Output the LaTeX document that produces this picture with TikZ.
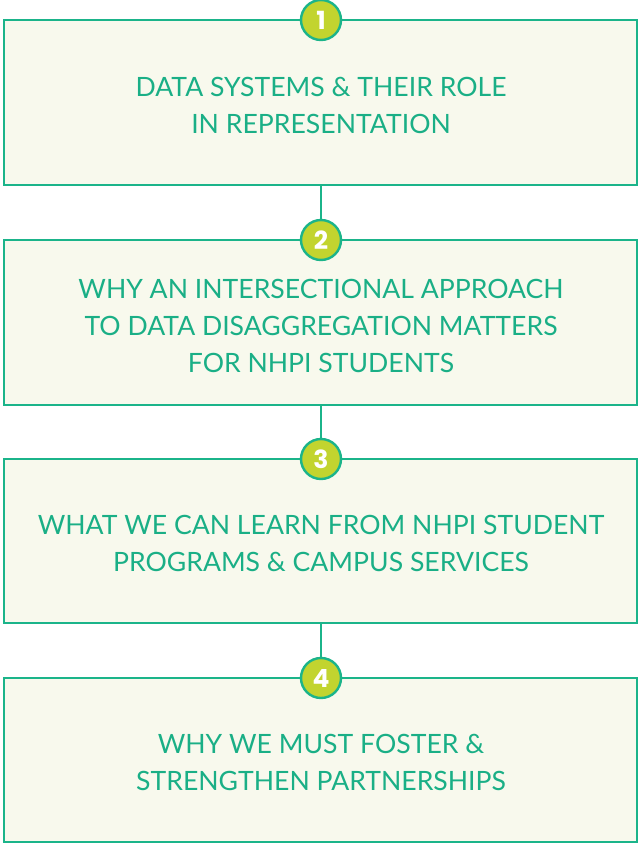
\documentclass[tikz,border=0pt]{standalone}
\usepackage{fontspec}
\setmainfont{Lato}
\newfontfamily\numfont{Poppins}
\definecolor{teal}{HTML}{1BB48A}
\definecolor{tealtext}{HTML}{1AAF86}
\definecolor{lime}{HTML}{C2D42F}
\definecolor{cream}{HTML}{F8F9ED}
\begin{document}
\begin{tikzpicture}[x=1pt,y=-1pt,
  panel/.style={draw=teal,line width=2.4pt,fill=cream},
  badge/.style={circle,draw=teal,line width=2.4pt,fill=lime,minimum size=40pt,inner sep=0pt,text=white,font=\numfont\bfseries\fontsize{25}{25}\selectfont},
  label/.style={text=tealtext,align=center,font=\fontsize{26.6}{37}\selectfont},
  link/.style={draw=teal,line width=2pt}]
\useasboundingbox (0,0) rectangle (639,844);
\node[panel,minimum width=633pt,minimum height=165pt,inner sep=0pt] (b1) at (320.5,102.5) {};
\node[panel,minimum width=633pt,minimum height=165pt,inner sep=0pt] (b2) at (320.5,322.5) {};
\node[panel,minimum width=633pt,minimum height=164pt,inner sep=0pt] (b3) at (320.5,541) {};
\node[panel,minimum width=633pt,minimum height=164pt,inner sep=0pt] (b4) at (320.5,760) {};
\draw[link] (b1.south -| 321,0) -- (321,221) coordinate (c2top);
\draw[link] (b2.south -| 321,0) -- (321,440) coordinate (c3top);
\draw[link] (b3.south -| 321,0) -- (321,659) coordinate (c4top);
\node[badge] (n1) at (321,20) {1};
\node[badge] (n2) at (321,240) {2};
\node[badge] (n3) at (321,459) {3};
\node[badge] (n4) at (321,678) {4};
\node[label] (t1) at (321,105) {DATA SYSTEMS \& THEIR ROLE\\IN REPRESENTATION};
\node[label] (t2) at (321,326) {WHY AN INTERSECTIONAL APPROACH\\TO DATA DISAGGREGATION MATTERS\\FOR NHPI STUDENTS};
\node[label] (t3) at (321,543) {WHAT WE CAN LEARN FROM NHPI STUDENT\\PROGRAMS \& CAMPUS SERVICES};
\node[label] (t4) at (321,762) {WHY WE MUST FOSTER \&\\STRENGTHEN PARTNERSHIPS};
\end{tikzpicture}
\end{document}
